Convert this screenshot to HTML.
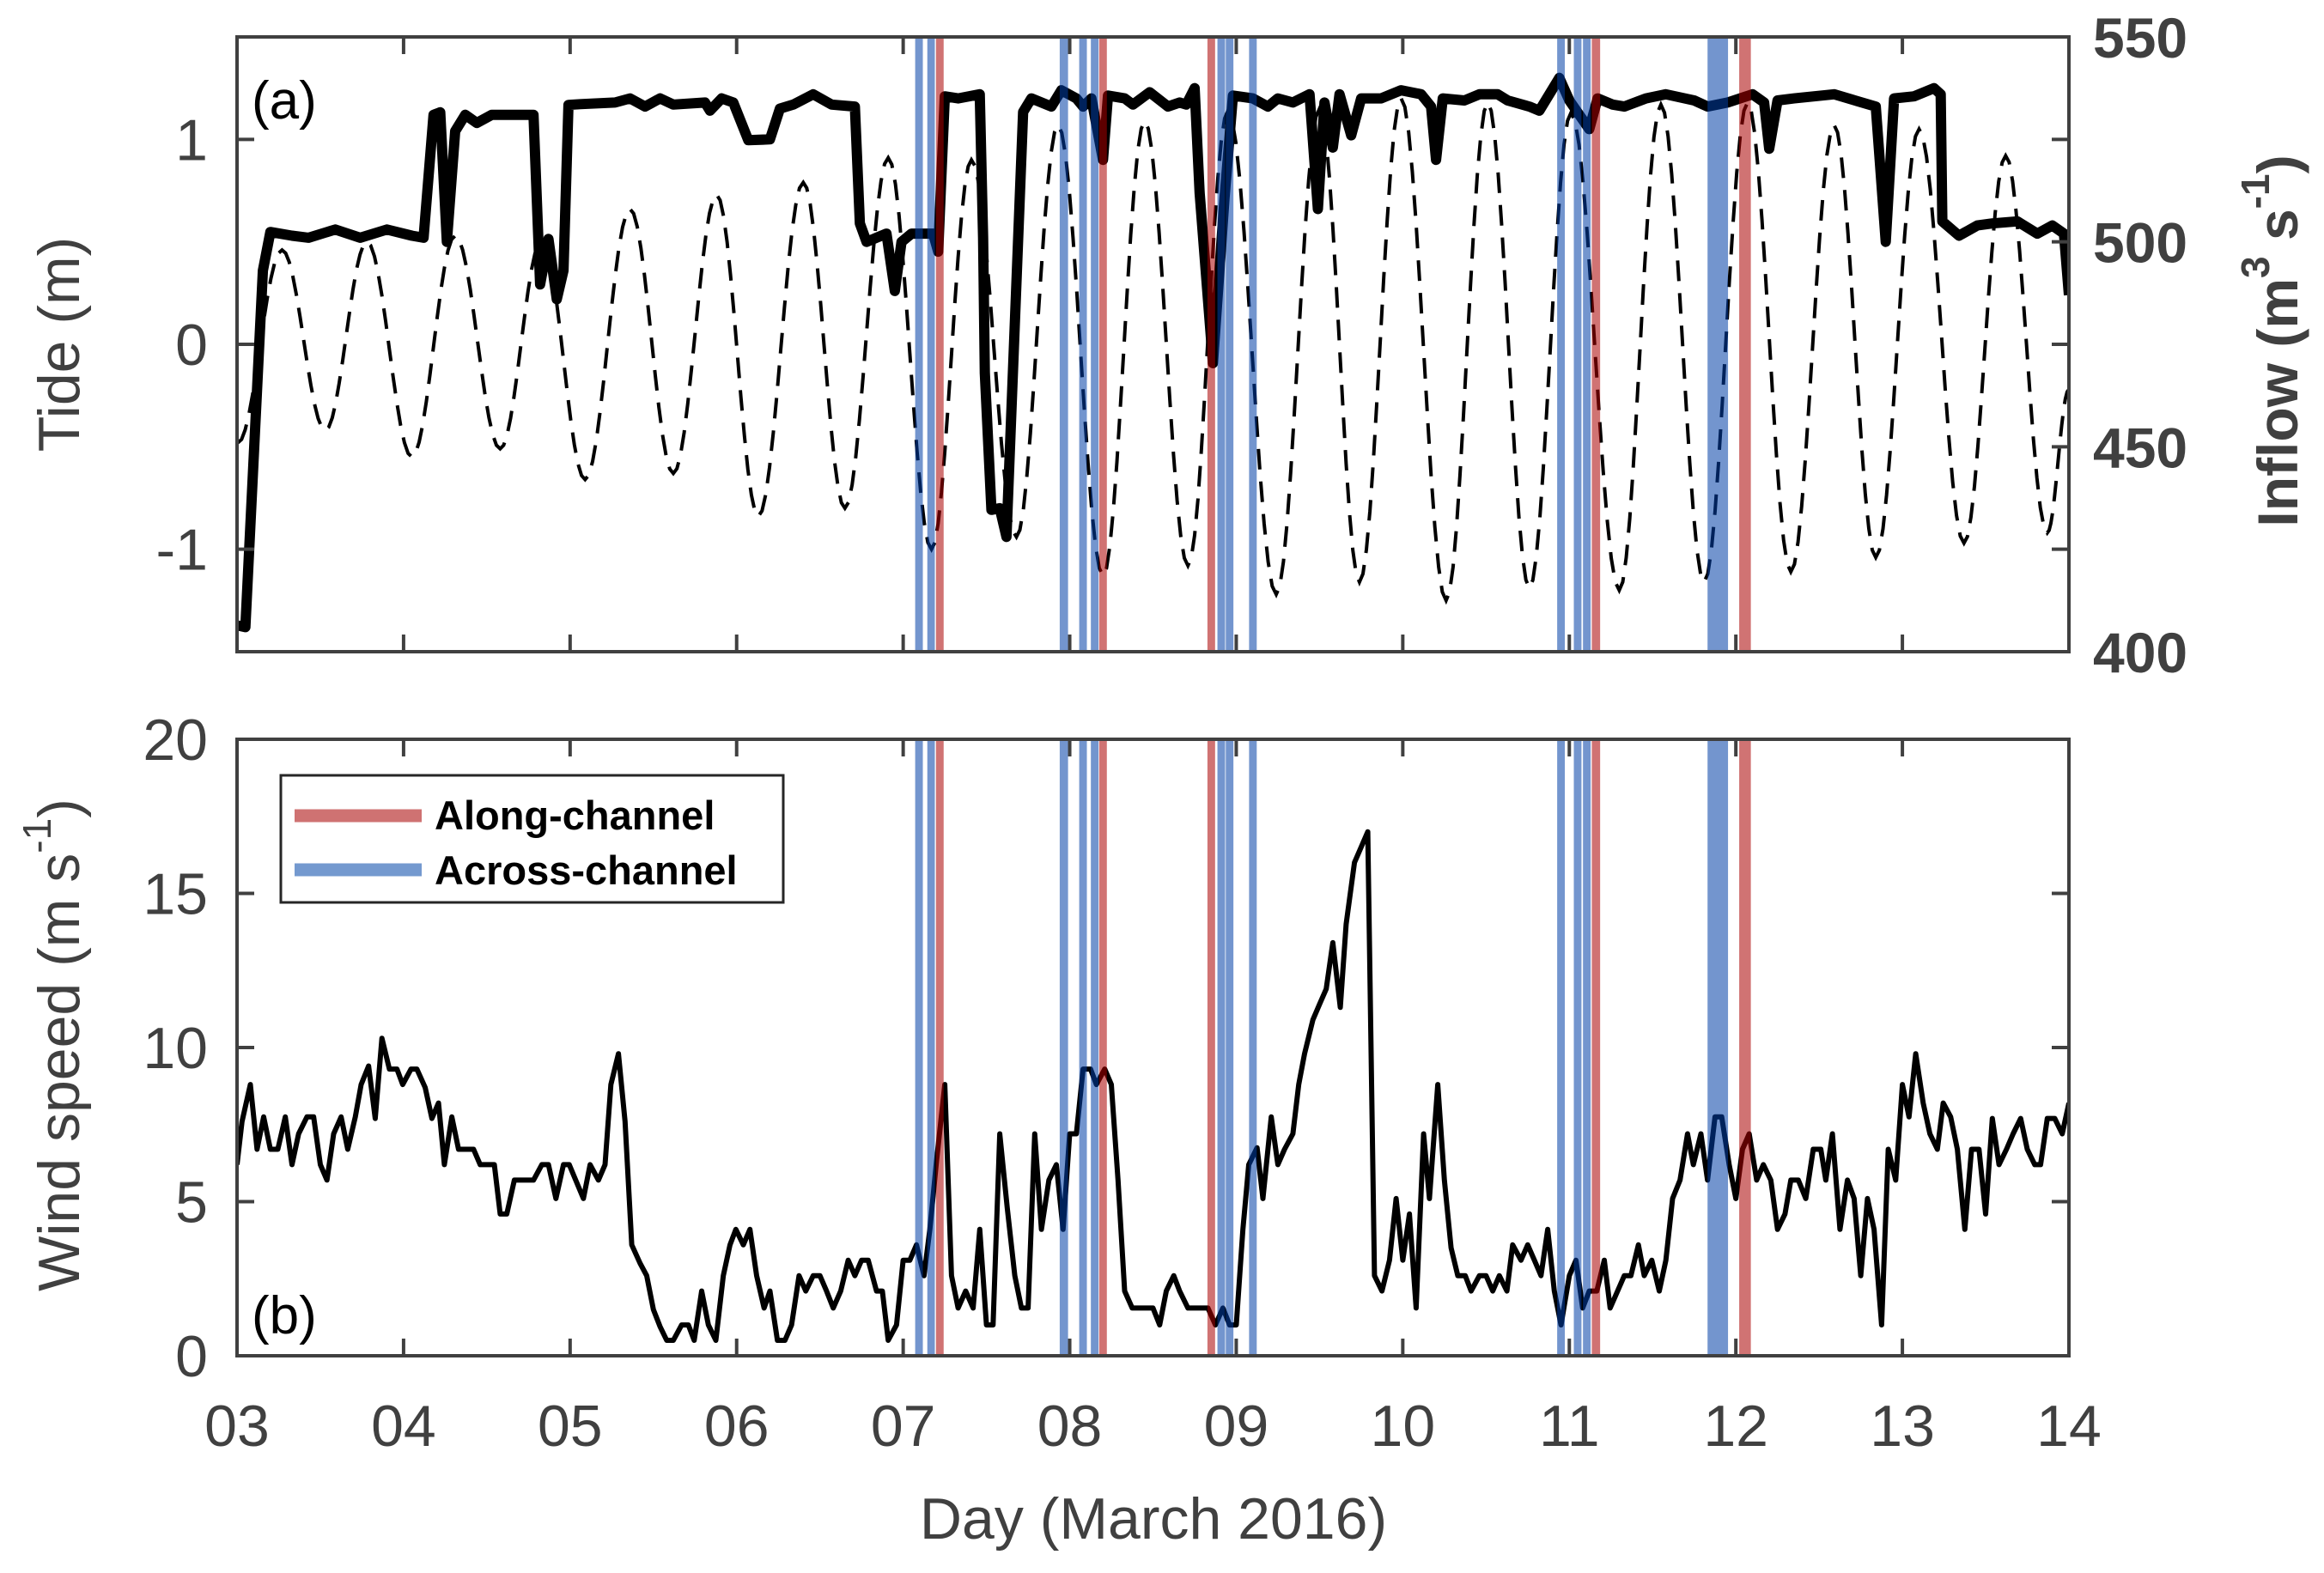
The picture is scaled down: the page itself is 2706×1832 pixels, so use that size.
<!DOCTYPE html>
<html><head><meta charset="utf-8"><style>
html,body{margin:0;padding:0;background:#fff;}
svg{display:block;font-family:"Liberation Sans",Arial,sans-serif;}
</style></head><body>
<svg id="fig" width="2706" height="1832" viewBox="0 0 2706 1832" xmlns="http://www.w3.org/2000/svg">
<defs>
<clipPath id="clipTop"><rect x="276" y="43" width="2133" height="716"/></clipPath>
<clipPath id="clipBot"><rect x="276" y="861" width="2133" height="718"/></clipPath>
</defs>
<rect width="2706" height="1832" fill="#fff"/>
<g id="topPlot"></g>
<g id="botPlot"></g>
<g id="axesG"></g>
<text x="293" y="138" font-size="62" fill="#000">(a)</text>
<text x="293" y="1553" font-size="62" fill="#000">(b)</text>
<text transform="translate(69,401) rotate(-90)" text-anchor="middle" dominant-baseline="central" font-size="68" fill="#404040">Tide (m)</text>
<text transform="translate(2652,397) rotate(-90)" text-anchor="middle" dominant-baseline="central" font-size="66" font-weight="bold" fill="#404040">Inflow (m<tspan dy="-26" font-size="46">3</tspan><tspan dy="26"> s</tspan><tspan dy="-26" font-size="46">-1</tspan><tspan dy="26">)</tspan></text>
<text transform="translate(69,1217) rotate(-90)" text-anchor="middle" dominant-baseline="central" font-size="68" fill="#404040">Wind speed (m s<tspan dy="-26" font-size="46">-1</tspan><tspan dy="26">)</tspan></text>
<text x="1343" y="1792" text-anchor="middle" font-size="68" fill="#404040">Day (March 2016)</text>
<g id="legendG">
<rect x="327" y="903" width="585" height="148" fill="#fff" stroke="#262626" stroke-width="3"/>
<line x1="343" y1="950" x2="491" y2="950" stroke="rgb(207,114,114)" stroke-width="15"/>
<line x1="343" y1="1013" x2="491" y2="1013" stroke="rgb(116,153,207)" stroke-width="15"/>
<text x="506" y="966" font-size="47" font-weight="bold" fill="#000">Along-channel</text>
<text x="506" y="1030" font-size="47" font-weight="bold" fill="#000">Across-channel</text>
</g>
</svg>
<script>
// ---- data ----
const dayTicks=[3,4,5,6,7,8,9,10,11,12,13,14];
const dayTickLabels=["03","04","05","06","07","08","09","10","11","12","13","14"];
const tideTicks=[-1,0,1];
const tideTickLabels=["-1","0","1"];
const inflowTicks=[425,450,475,500,525];
const inflowLabelVals=[400,450,500,550];
const windTicks=[0,5,10,15,20];
const windTickLabels=["0","5","10","15","20"];

// tide extremes (day, m)
const tideDays=[3.005,3.27,3.53,3.78,4.05,4.31,4.58,4.83,5.09,5.36,5.62,5.88,6.13,6.40,6.65,6.91,7.17,7.41,7.68,7.93,8.20,8.45,8.71,8.95,9.24,9.50,9.74,9.99,10.26,10.51,10.76,11.01,11.30,11.55,11.81,12.07,12.33,12.59,12.84,13.10,13.37,13.62,13.87,14.0];
const tideVals=[-0.48,0.46,-0.42,0.50,-0.55,0.53,-0.51,0.51,-0.66,0.66,-0.63,0.73,-0.84,0.79,-0.80,0.91,-1.0,0.90,-0.94,1.07,-1.13,1.09,-1.08,1.14,-1.22,1.15,-1.16,1.20,-1.25,1.18,-1.19,1.13,-1.20,1.17,-1.16,1.18,-1.11,1.07,-1.04,1.05,-0.97,0.92,-0.92,-0.22];

// inflow (day, m3/s)
const inflowDays=[3.005,3.05,3.155,3.20,3.33,3.43,3.59,3.74,3.90,4.05,4.12,4.18,4.22,4.26,4.31,4.37,4.44,4.53,4.68,4.78,4.82,4.87,4.92,4.96,4.99,5.06,5.27,5.36,5.45,5.54,5.62,5.81,5.84,5.91,5.98,6.07,6.20,6.26,6.34,6.46,6.57,6.71,6.74,6.78,6.90,6.95,6.99,7.05,7.18,7.21,7.25,7.33,7.46,7.48,7.49,7.53,7.58,7.62,7.72,7.77,7.89,7.95,8.04,8.08,8.13,8.20,8.23,8.33,8.38,8.48,8.59,8.66,8.70,8.75,8.78,8.86,8.93,8.98,9.10,9.19,9.25,9.34,9.44,9.49,9.53,9.58,9.62,9.69,9.75,9.87,9.99,10.11,10.17,10.20,10.24,10.37,10.46,10.57,10.63,10.76,10.82,10.94,11.00,11.12,11.17,11.26,11.33,11.46,11.58,11.75,11.83,11.95,12.10,12.17,12.20,12.25,12.35,12.59,12.84,12.90,12.95,13.07,13.19,13.23,13.24,13.34,13.45,13.54,13.69,13.81,13.90,13.97,14.0];
const inflowVals=[406.4,406,493,502.4,501.5,501,503,501,503,501.5,501,531,531.6,500,527,531,529,531,531,531,489.6,500.7,486,493,533.4,533.6,534,535,533,535,533.5,534,532,535,534,524.8,525,532.5,533.5,536,533.5,533,504.5,500,502,488,500,502,502,497.6,535.5,535,536,501,468,434.6,435,428,531.7,535,533,537,535,533,535,520,535.7,535,533.5,536.5,533,534,533.5,537.5,512,470.4,511,535.7,535,533,535,534,536,508,534,523,536,526,535,535,537,536,533,520,535,534.5,536,536,534.5,533,532,540,534.5,527.5,535,533.5,533,535,536,534.5,533,534,536,534,522.7,534.5,535,536,533,500,535,535.5,537.5,536,505,501.5,504,504.5,505,502,504,502,487];

// wind speed (day, m/s)
const windDays=[3.0,3.03,3.08,3.12,3.16,3.2,3.245,3.29,3.33,3.37,3.42,3.46,3.5,3.54,3.58,3.625,3.665,3.71,3.745,3.79,3.83,3.87,3.915,3.96,3.995,4.045,4.08,4.13,4.17,4.21,4.245,4.29,4.33,4.42,4.46,4.545,4.58,4.62,4.665,4.78,4.83,4.87,4.915,4.96,4.995,5.08,5.12,5.17,5.21,5.245,5.29,5.33,5.37,5.42,5.46,5.5,5.54,5.58,5.62,5.67,5.71,5.745,5.79,5.83,5.875,5.92,5.96,5.995,6.04,6.08,6.12,6.165,6.2,6.245,6.29,6.33,6.375,6.415,6.46,6.5,6.54,6.58,6.625,6.67,6.71,6.75,6.79,6.84,6.875,6.91,6.96,7.0,7.04,7.08,7.125,7.16,7.2,7.25,7.29,7.33,7.375,7.42,7.46,7.5,7.54,7.58,7.625,7.67,7.71,7.75,7.79,7.83,7.875,7.92,7.96,8.0,8.04,8.08,8.125,8.16,8.21,8.25,8.29,8.33,8.375,8.5,8.54,8.58,8.625,8.66,8.71,8.83,8.875,8.92,8.96,9.0,9.04,9.075,9.125,9.16,9.21,9.25,9.29,9.34,9.375,9.41,9.46,9.5,9.54,9.58,9.625,9.66,9.71,9.75,9.79,9.83,9.875,9.92,9.96,10.0,10.04,10.08,10.125,10.16,10.21,10.25,10.29,10.33,10.375,10.41,10.46,10.5,10.54,10.58,10.625,10.66,10.71,10.75,10.79,10.83,10.87,10.91,10.95,11.0,11.04,11.08,11.12,11.165,11.21,11.245,11.29,11.33,11.37,11.415,11.45,11.495,11.54,11.58,11.62,11.665,11.71,11.745,11.79,11.83,11.875,11.915,11.96,12.0,12.04,12.08,12.125,12.165,12.21,12.25,12.295,12.33,12.375,12.42,12.465,12.51,12.54,12.58,12.625,12.67,12.71,12.75,12.79,12.83,12.875,12.915,12.96,13.0,13.04,13.08,13.125,13.165,13.21,13.245,13.29,13.33,13.375,13.415,13.46,13.5,13.54,13.58,13.625,13.665,13.71,13.75,13.795,13.83,13.87,13.915,13.96,14.0];
const windVals=[6.2,7.6,8.8,6.7,7.75,6.7,6.7,7.75,6.2,7.2,7.75,7.75,6.2,5.7,7.2,7.75,6.7,7.75,8.8,9.4,7.7,10.3,9.3,9.3,8.8,9.3,9.3,8.7,7.7,8.2,6.2,7.75,6.7,6.7,6.2,6.2,4.6,4.6,5.7,5.7,6.2,6.2,5.1,6.2,6.2,5.1,6.2,5.7,6.2,8.8,9.8,7.6,3.6,3.0,2.6,1.5,0.95,0.5,0.5,1.0,1.0,0.5,2.1,1.0,0.5,2.6,3.6,4.1,3.6,4.1,2.6,1.55,2.1,0.5,0.5,1.0,2.6,2.1,2.6,2.6,2.1,1.55,2.1,3.1,2.6,3.1,3.1,2.1,2.1,0.5,1.0,3.1,3.1,3.6,2.6,4.1,6.3,8.8,2.6,1.55,2.1,1.55,4.1,1.0,1.0,7.2,4.8,2.6,1.55,1.55,7.2,4.1,5.7,6.2,4.1,7.2,7.2,9.3,9.3,8.8,9.3,8.8,5.7,2.1,1.55,1.55,1.0,2.1,2.6,2.1,1.55,1.55,1.0,1.55,1.0,1.0,4.1,6.2,6.75,5.1,7.75,6.2,6.7,7.2,8.8,9.8,10.9,11.4,11.9,13.4,11.3,14.0,16.0,16.5,17.0,2.6,2.1,3.1,5.1,3.1,4.6,1.55,7.2,5.1,8.8,5.7,3.5,2.6,2.6,2.1,2.6,2.6,2.1,2.6,2.1,3.6,3.1,3.6,3.1,2.6,4.1,2.1,1.0,2.6,3.1,1.55,2.1,2.1,3.1,1.55,2.1,2.6,2.6,3.6,2.6,3.1,2.1,3.1,5.1,5.7,7.2,6.2,7.2,5.7,7.75,7.75,6.2,5.1,6.7,7.2,5.7,6.2,5.7,4.1,4.6,5.7,5.7,5.1,6.7,6.7,5.7,7.2,4.1,5.7,5.1,2.6,5.1,4.1,1.0,6.7,5.7,8.8,7.75,9.8,8.2,7.2,6.7,8.2,7.75,6.7,4.1,6.7,6.7,4.6,7.7,6.2,6.7,7.2,7.7,6.7,6.2,6.2,7.7,7.7,7.2,8.2];

// wind event bands (day start, day end)
const acrossStart=[7.072,7.145,7.94,8.057,8.127,8.887,8.937,9.077,10.927,11.027,11.082,11.83];
const acrossEnd=[7.118,7.19,7.99,8.103,8.173,8.933,8.983,9.123,10.973,11.073,11.128,11.953];
const alongStart=[7.197,8.177,8.827,11.135,12.02];
const alongEnd=[7.243,8.223,8.873,11.185,12.09];

// ---- scales ----
const NS="http://www.w3.org/2000/svg";
const X0=276,X1=2409,YT0=43,YT1=759,YB0=861,YB1=1579;
const xS=d=>X0+(d-3)/11*(X1-X0);
const tideY=v=>YT0+(1.5-v)/3*(YT1-YT0);
const inflowY=v=>YT0+(550-v)/150*(YT1-YT0);
const windY=v=>YB0+(20-v)/20*(YB1-YB0);
function mk(tag,attrs,parent){const e=document.createElementNS(NS,tag);for(const k in attrs)e.setAttribute(k,attrs[k]);parent.appendChild(e);return e;}
const topEl=document.getElementById('topPlot'),botEl=document.getElementById('botPlot'),axEl=document.getElementById('axesG');
const gT=mk('g',{'clip-path':'url(#clipTop)'},topEl);
const gB=mk('g',{'clip-path':'url(#clipBot)'},botEl);

// tide dashed line (cosine between extremes)
let dT='';
for(let i=0;i<tideDays.length-1;i++){
  const a=tideDays[i],b=tideDays[i+1],va=tideVals[i],vb=tideVals[i+1];
  for(let k=(i===0?0:1);k<=12;k++){const f=k/12;const v=va+(vb-va)*(1-Math.cos(Math.PI*f))/2;
    dT+=(dT?'L':'M')+xS(a+(b-a)*f).toFixed(1)+','+tideY(v).toFixed(1);}
}
const tideLine=mk('path',{d:dT,fill:'none',stroke:'#000','stroke-width':4,'stroke-dasharray':'24,14'},gT);



// inflow thick line
let dI='';
const nI=Math.min(inflowDays.length,inflowVals.length);
for(let i=0;i<nI;i++){dI+=(i?'L':'M')+xS(inflowDays[i]).toFixed(1)+','+inflowY(inflowVals[i]).toFixed(1);}
const infLine=mk('path',{d:dI,fill:'none',stroke:'#000','stroke-width':12,'stroke-linejoin':'round'},gT);



// wind line
let dW='';
const nW=Math.min(windDays.length,windVals.length);
for(let i=0;i<nW;i++){dW+=(i?'L':'M')+xS(windDays[i]).toFixed(1)+','+windY(windVals[i]).toFixed(1);}
const windLine=mk('path',{d:dW,fill:'none',stroke:'#000','stroke-width':6,'stroke-linejoin':'round'},gB);



// bands
function bands(starts,ends,color,name){
  [[gT,YT0,YT1],[gB,YB0,YB1]].forEach(([g,y0,y1])=>{
    starts.forEach((s,i)=>{
      const r=mk('rect',{x:xS(s),y:y0,width:xS(ends[i])-xS(s),height:y1-y0,fill:color,'fill-opacity':0.55},g);
      
      
    });
  });
}
bands(acrossStart,acrossEnd,'rgb(0,62,165)','across-channel-band');
bands(alongStart,alongEnd,'rgb(170,0,0)','along-channel-band');

// axes frames
const AX='#404040';
[[YT0,YT1],[YB0,YB1]].forEach(([y0,y1],p)=>{
  const fr=mk('rect',{x:X0,y:y0,width:X1-X0,height:y1-y0,fill:'none',stroke:AX,'stroke-width':4},axEl);
  
  
  dayTicks.forEach(d=>{
    const x=xS(d);
    mk('line',{x1:x,y1:y1,x2:x,y2:y1-20,stroke:AX,'stroke-width':4},axEl);
    mk('line',{x1:x,y1:y0,x2:x,y2:y0+20,stroke:AX,'stroke-width':4},axEl);
  });
});
dayTickLabels.forEach((l,i)=>{
  const t=mk('text',{x:xS(dayTicks[i]),y:1684,'text-anchor':'middle','font-size':68,fill:AX},axEl);
  t.textContent=l;
  
  
});
tideTicks.forEach((v,i)=>{
  const y=tideY(v);
  mk('line',{x1:X0,y1:y,x2:X0+20,y2:y,stroke:AX,'stroke-width':4},axEl);
  const t=mk('text',{x:242,y:y+24,'text-anchor':'end','font-size':68,fill:AX},axEl);
  t.textContent=tideTickLabels[i];
  
  
});
inflowTicks.forEach(v=>{const y=inflowY(v);mk('line',{x1:X1,y1:y,x2:X1-20,y2:y,stroke:AX,'stroke-width':4},axEl);});
inflowLabelVals.forEach(v=>{
  const t=mk('text',{x:2437,y:inflowY(v)+24,'font-size':66,'font-weight':'bold',fill:AX},axEl);
  t.textContent=String(v);
  
  
});
windTicks.forEach((v,i)=>{
  const y=windY(v);
  mk('line',{x1:X0,y1:y,x2:X0+20,y2:y,stroke:AX,'stroke-width':4},axEl);
  mk('line',{x1:X1,y1:y,x2:X1-20,y2:y,stroke:AX,'stroke-width':4},axEl);
  const t=mk('text',{x:242,y:y+24,'text-anchor':'end','font-size':68,fill:AX},axEl);
  t.textContent=windTickLabels[i];
  
  
});
// keep legend on top
document.getElementById('fig').appendChild(document.getElementById('legendG'));
</script>
</body></html>
